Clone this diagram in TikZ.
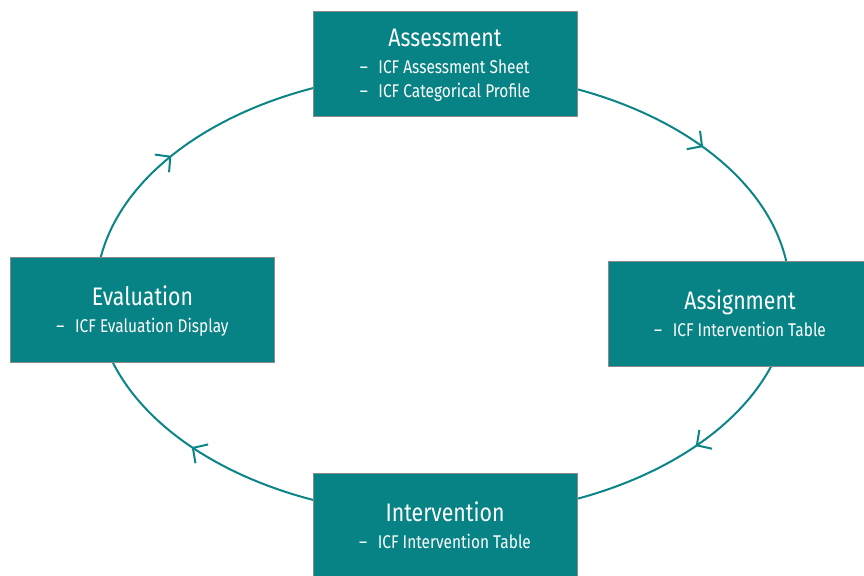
\documentclass[tikz,border=0pt]{standalone}
\usepackage{fontspec}
\setmainfont{Fira Sans}[FakeStretch=0.84]
\usetikzlibrary{positioning, arrows.meta, decorations.markings, backgrounds}
\definecolor{Teal}{HTML}{078385}
\definecolor{Ring}{HTML}{0B8587}
\definecolor{Edge}{HTML}{8A8A8A}
\newcommand{\stagetext}[2]{\raisebox{-2.6pt}[\height][\depth]{\begin{tabular}{@{}c@{}}{\fontsize{19}{22}\selectfont #1}\\[4.25pt]{\fontsize{13.8}{18}\selectfont\begin{tabular}{@{}l@{}}#2\end{tabular}}\end{tabular}}}
\newcommand{\icfitem}[1]{–\hspace{8pt}#1}
\tikzset{
    stagenode/.style={rectangle, fill=Teal, draw=Edge, line width=0.75pt, text=white, align=center, minimum width=198pt, minimum height=78.75pt, inner sep=0pt},
    cycleline/.style={draw=Ring, line width=1.5pt, postaction={decorate},
        decoration={markings,
            mark=at position 0.103 with {\arrow[Ring]{Straight Barb[length=8pt,width=17pt]}},
            mark=at position 0.396 with {\arrow[Ring]{Straight Barb[length=8pt,width=17pt]}},
            mark=at position 0.59 with {\arrow[Ring]{Straight Barb[length=8pt,width=17pt]}},
            mark=at position 0.902 with {\arrow[Ring]{Straight Barb[length=8pt,width=17pt]}}}},
}
\begin{document}
\begin{tikzpicture}[x=0.75pt, y=-0.75pt]
    \useasboundingbox (0,0) rectangle (864,575);
    \coordinate (ring) at (443,294);

    % Stages
    \node[stagenode] (assessment) at (445,63.5) {\stagetext{Assessment}{\icfitem{ICF Assessment Sheet}\\ \icfitem{ICF Categorical Profile}}};
    \node[stagenode] (assignment) at (740,313.5) {\stagetext{Assignment}{\icfitem{ICF Intervention Table}}};
    \node[stagenode] (intervention) at (445,525.5) {\stagetext{Intervention}{\icfitem{ICF Intervention Table}}};
    \node[stagenode] (evaluation) at (142.5,309.5) {\stagetext{Evaluation}{\icfitem{ICF Evaluation Display}}};

    % Cycle behind the stages
    \begin{scope}[on background layer]
        \draw[cycleline] (ring) ellipse [x radius=347, y radius=222];
    \end{scope}
\end{tikzpicture}
\end{document}
